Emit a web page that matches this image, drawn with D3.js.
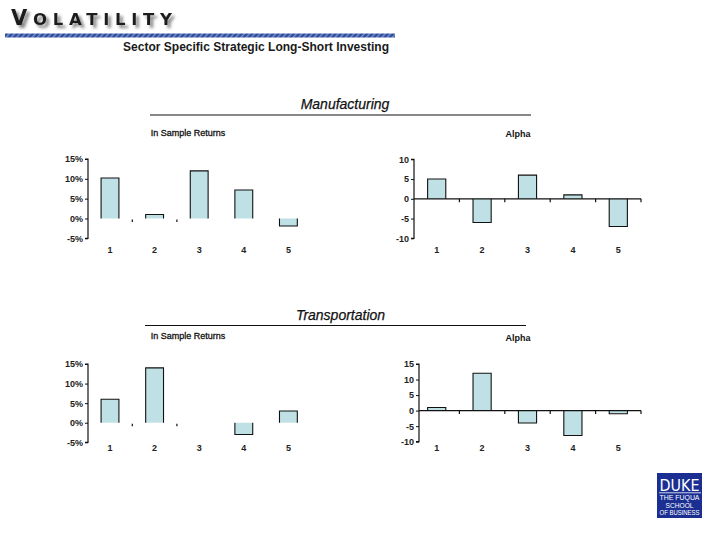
<!DOCTYPE html>
<html>
<head>
<meta charset="utf-8">
<script src="https://cdn.jsdelivr.net/npm/d3@7"></script>
<style>
  html, body { margin: 0; padding: 0; background: #ffffff; }
  svg { display: block; }
</style>
</head>
<body>
<svg id="chart" width="720" height="540"></svg>
<script>
// ---- data ----
const categories = ["1", "2", "3", "4", "5"];
const mfgReturns = [10.2, 1, 12, 7.2, -1.9];      // % in-sample returns, Manufacturing
const mfgAlpha = [5, -6, 6, 1, -7];                // alpha, Manufacturing
const trnReturns = [6, 14, 0, -3, 3];              // % in-sample returns, Transportation
const trnAlpha = [1, 12, -4, -8, -1];              // alpha, Transportation
const returnTicks = [-5, 0, 5, 10, 15];
const mfgAlphaTicks = [-10, -5, 0, 5, 10];
const trnAlphaTicks = [-10, -5, 0, 5, 10, 15];
const sectorTitles = ["Manufacturing", "Transportation"];
const panelTitles = ["In Sample Returns", "Alpha"];

const svg = d3.select("#chart");
const FONT = "'Liberation Sans', Arial, sans-serif";
const BAR_FILL = "#bfe1e5";

// ---- header ----
const defs = svg.append("defs");
const sh = defs.append("filter").attr("id", "shadow").attr("x", "-10%").attr("y", "-40%").attr("width", "130%").attr("height", "200%");
sh.append("feDropShadow").attr("dx", 3).attr("dy", 3).attr("stdDeviation", 1.5)
  .attr("flood-color", "#777").attr("flood-opacity", 0.9);

const pat = defs.append("pattern").attr("id", "wave").attr("patternUnits", "userSpaceOnUse")
  .attr("width", 4).attr("height", 4).attr("patternTransform", "rotate(40)");
pat.append("rect").attr("width", 4).attr("height", 4).attr("fill", "#2c4c9e");
pat.append("rect").attr("width", 1.4).attr("height", 4).attr("fill", "#7d93c9");

const hdr = svg.append("g");
const vt = hdr.append("text")
  .attr("x", 11).attr("y", 25)
  .attr("font-family", "'DejaVu Sans', sans-serif")
  .attr("font-weight", "bold")
  .attr("fill", "#1e1e1e")
  .attr("textLength", 161)
  .attr("lengthAdjust", "spacing")
  .attr("filter", "url(#shadow)");
vt.append("tspan").attr("font-size", 21).text("V");
vt.append("tspan").attr("font-size", 16.5).text("OLATILITY");

hdr.append("rect").attr("x", 5).attr("y", 33.5).attr("width", 390).attr("height", 4)
  .attr("fill", "url(#wave)");

hdr.append("text").attr("x", 123).attr("y", 51)
  .attr("font-family", FONT).attr("font-weight", "bold").attr("font-size", 13)
  .attr("fill", "#1a1a1a")
  .attr("textLength", 266).attr("lengthAdjust", "spacingAndGlyphs")
  .text("Sector Specific Strategic Long-Short Investing");

// ---- section titles ----
const sections = [
  { title: sectorTitles[0], cx: 345, ty: 108.5, lineY: 115, x1: 150, x2: 531 },
  { title: sectorTitles[1], cx: 340.5, ty: 319.5, lineY: 325.5, x1: 145, x2: 526 }
];
sections.forEach(s => {
  svg.append("text").attr("x", s.cx).attr("y", s.ty)
    .attr("text-anchor", "middle")
    .attr("font-family", FONT).attr("font-style", "italic").attr("font-size", 14)
    .attr("fill", "#111").attr("stroke", "#111").attr("stroke-width", 0.25)
    .text(s.title);
  svg.append("line").attr("x1", s.x1).attr("x2", s.x2).attr("y1", s.lineY).attr("y2", s.lineY)
    .attr("stroke", "#111").attr("stroke-width", 1.2);
});

// ---- panels ----
function drawPanel(cfg) {
  const g = svg.append("g");
  const x = d3.scaleBand().domain(categories).range([cfg.x0, cfg.x1])
    .paddingInner(0.6).paddingOuter(0.3);
  const y = d3.scaleLinear().domain(cfg.domain).range([cfg.yBottom, cfg.yTop]);

  // title
  g.append("text").attr("x", cfg.titleX).attr("y", cfg.titleY)
    .attr("text-anchor", "middle").attr("font-family", FONT)
    .attr("font-size", 9).attr("font-weight", cfg.titleBold ? "bold" : "normal")
    .attr("fill", "#111").attr("stroke", cfg.titleBold ? "none" : "#111").attr("stroke-width", 0.3)
    .text(cfg.title);

  const data = cfg.values.map((v, i) => ({ c: categories[i], v }));
  // bar fills
  g.selectAll("rect.bar").data(data).enter().append("rect")
    .attr("x", d => x(d.c))
    .attr("width", x.bandwidth())
    .attr("y", d => y(Math.max(0, d.v)))
    .attr("height", d => Math.abs(y(d.v) - y(0)))
    .attr("fill", BAR_FILL);
  // bar outlines (three sides, open at zero)
  g.selectAll("path.bar").data(data.filter(d => d.v !== 0)).enter().append("path")
    .attr("d", d => {
      const xl = x(d.c), xr = x(d.c) + x.bandwidth(), y0 = y(0), y1 = y(d.v);
      return `M${xl},${y0}V${y1}H${xr}V${y0}`;
    })
    .attr("fill", "none").attr("stroke", "#111").attr("stroke-width", 1.1);

  // y axis
  const yAxis = d3.axisLeft(y).tickValues(cfg.ticks).tickSize(3).tickPadding(2)
    .tickFormat(d => d3.format("d")(d).replace("−", "-") + (cfg.pct ? "%" : ""));
  const ya = g.append("g").attr("transform", `translate(${cfg.axisX},0)`).call(yAxis);
  ya.select(".domain").attr("d", `M-3,${y(cfg.domain[1])}H0V${y(cfg.domain[0])}H-3`)
    .attr("stroke", "#111").attr("stroke-width", 1.2);
  ya.selectAll(".tick line").attr("stroke", "#111");
  ya.selectAll(".tick text").attr("font-family", FONT).attr("font-size", 9)
    .attr("font-weight", "bold").attr("fill", "#222");

  // x axis along zero
  const step = x.step();
  const bounds = d3.range(1, categories.length + 1).map(i => cfg.x0 + i * step);
  if (cfg.zeroLine) {
    g.append("line").attr("x1", cfg.axisX).attr("x2", cfg.x1)
      .attr("y1", y(0)).attr("y2", y(0)).attr("stroke", "#111").attr("stroke-width", 1.2);
  }
  const tickBounds = cfg.zeroLine ? bounds : bounds.slice(0, 2);
  g.selectAll("line.xt").data(tickBounds).enter().append("line")
    .attr("x1", d => d).attr("x2", d => d)
    .attr("y1", y(0) + (cfg.zeroLine ? 0 : 1)).attr("y2", y(0) + 3.5)
    .attr("stroke", "#111").attr("stroke-width", 1.2);

  // category labels
  g.selectAll("text.cat").data(categories).enter().append("text")
    .attr("x", d => x(d) + x.bandwidth() / 2)
    .attr("y", cfg.labelY)
    .attr("text-anchor", "middle").attr("font-family", FONT)
    .attr("font-size", 9).attr("font-weight", "bold").attr("fill", "#222")
    .text(d => d);
}

drawPanel({ values: mfgReturns, domain: [-5, 15], ticks: returnTicks, pct: true,
  x0: 87.7, x1: 310.7, axisX: 88, yTop: 159, yBottom: 238.3,
  title: panelTitles[0], titleX: 188, titleY: 136, titleBold: false, labelY: 253, zeroLine: false });
drawPanel({ values: mfgAlpha, domain: [-10, 10], ticks: mfgAlphaTicks, pct: false,
  x0: 414, x1: 641, axisX: 414, yTop: 159.3, yBottom: 238.3,
  title: panelTitles[1], titleX: 518, titleY: 137, titleBold: true, labelY: 252.5, zeroLine: true });
drawPanel({ values: trnReturns, domain: [-5, 15], ticks: returnTicks, pct: true,
  x0: 87.7, x1: 310.7, axisX: 88, yTop: 364, yBottom: 442.3,
  title: panelTitles[0], titleX: 188, titleY: 339, titleBold: false, labelY: 450.5, zeroLine: false });
drawPanel({ values: trnAlpha, domain: [-10, 15], ticks: trnAlphaTicks, pct: false,
  x0: 414, x1: 641, axisX: 419, yTop: 364, yBottom: 441.7,
  title: panelTitles[1], titleX: 518, titleY: 341, titleBold: true, labelY: 451, zeroLine: true });

// ---- Duke logo ----
const logo = svg.append("g");
logo.append("rect").attr("x", 657).attr("y", 473).attr("width", 45).attr("height", 45).attr("fill", "#1b2f93");
logo.append("text").attr("x", 679.5).attr("y", 490.5).attr("text-anchor", "middle")
  .attr("font-family", "'DejaVu Sans', sans-serif").attr("font-weight", "normal")
  .attr("font-size", 15).attr("fill", "#fff")
  .attr("textLength", 40).attr("lengthAdjust", "spacingAndGlyphs").text("DUKE");
logo.append("line").attr("x1", 659).attr("x2", 701).attr("y1", 492.8).attr("y2", 492.8)
  .attr("stroke", "#fff").attr("stroke-width", 0.8);
[["THE FUQUA", 500, 40], ["SCHOOL", 507.5, 28], ["OF BUSINESS", 515, 40]].forEach(([t, yy, w]) => {
  logo.append("text").attr("x", 679.5).attr("y", yy).attr("text-anchor", "middle")
    .attr("font-family", FONT).attr("font-size", 7.5).attr("fill", "#fff")
    .attr("textLength", w).attr("lengthAdjust", "spacingAndGlyphs").text(t);
});
</script>
</body>
</html>
